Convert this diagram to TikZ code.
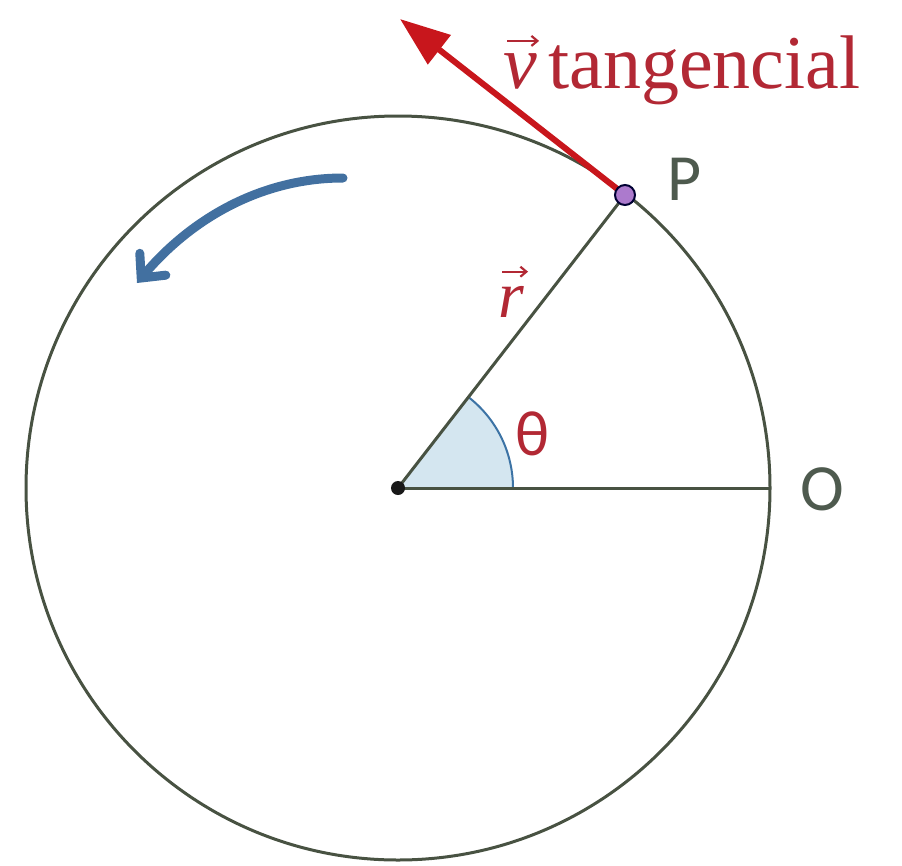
\documentclass[tikz,border=0pt]{standalone}
\usepackage{fontspec}
\setmainfont{Liberation Serif}
\newfontfamily\sansf{Carlito}
\usetikzlibrary{arrows.meta}
\definecolor{circ}{RGB}{72,82,66}
\definecolor{redarrow}{RGB}{200,22,28}
\definecolor{redtext}{RGB}{178,40,52}
\definecolor{bluearrow}{RGB}{66,112,160}
\definecolor{anglefill}{RGB}{212,230,240}
\definecolor{anglestroke}{RGB}{60,115,165}
\definecolor{pfill}{RGB}{172,122,205}
\definecolor{labgray}{RGB}{78,90,78}
\tikzset{
  lineto/.style={draw=circ, line width=3pt},
  lbl/.style={inner sep=0pt, anchor=base west},
  vecarrow/.style={redtext, line width=2.2pt, -{Straight Barb[length=6pt,width=10pt]}},
}
\begin{document}
\begin{tikzpicture}[x=1pt,y=-1pt]
\useasboundingbox (0,0) rectangle (902,865);
\coordinate (C) at (398,488);
\coordinate (O) at (771,488);
\coordinate (T) at (400,19);
\coordinate (Bs) at (343,178);
\coordinate (Be) at (137,283);
% angle sector
\fill[anglefill] (C) -- ++(115,0) arc[start angle=0, end angle=-52.2, radius=115] -- cycle;
\draw[anglestroke, line width=2pt] (C) ++(115,0) arc[start angle=0, end angle=-52.2, radius=115];
% circle
\draw[circ, line width=3pt] (C) circle[radius=372];
% radius lines
\node[circle, minimum size=20pt, inner sep=0pt] (P) at (625,195) {};
\draw[lineto] (C) -- (P.center);
\draw[lineto] (C) -- (O);
% tangential arrow
\draw[redarrow, line width=6pt, -{Triangle[length=50pt,width=36pt]}] (P.center) -- (T);
\node[circle, fill=pfill, draw=black!80!blue, line width=2pt, minimum size=20pt, inner sep=0pt] at (P) {};
% center dot
\node[circle, fill=black!90, minimum size=14pt, inner sep=0pt] (Cd) at (C) {};
% blue rotation arrow
\draw[bluearrow, line width=9pt, line cap=round, -{Straight Barb[length=18pt,width=34pt,line cap=round]}]
  (Bs) .. controls (260,178) and (190,220) .. (Be);
% labels
\node[lbl, text=redtext, font=\fontsize{76}{80}\selectfont] (vv) at (503,88) {\itshape v};
\node[lbl, text=redtext, font=\fontsize{76}{80}\selectfont] (vt) at (548,88) {tangencial};
\draw[vecarrow] ([xshift=4pt,yshift=12pt]vv.north west) -- ([xshift=2pt,yshift=12pt]vv.north east);
\node[lbl, text=redtext, font=\fontsize{66}{70}\selectfont] (rl) at (498,317) {\itshape r};
\draw[vecarrow] ([xshift=4pt,yshift=14pt]rl.north west) -- ([xshift=4pt,yshift=14pt]rl.north east);
\node[lbl, text=redtext, font=\sansf\fontsize{64}{68}\selectfont] (th) at (515,455) {θ};
\node[lbl, text=labgray, font=\sansf\fontsize{66}{70}\selectfont] (Pl) at (667,200) {P};
\node[lbl, text=labgray, font=\sansf\fontsize{66}{70}\selectfont] (Ol) at (800,510) {O};
\end{tikzpicture}
\end{document}
